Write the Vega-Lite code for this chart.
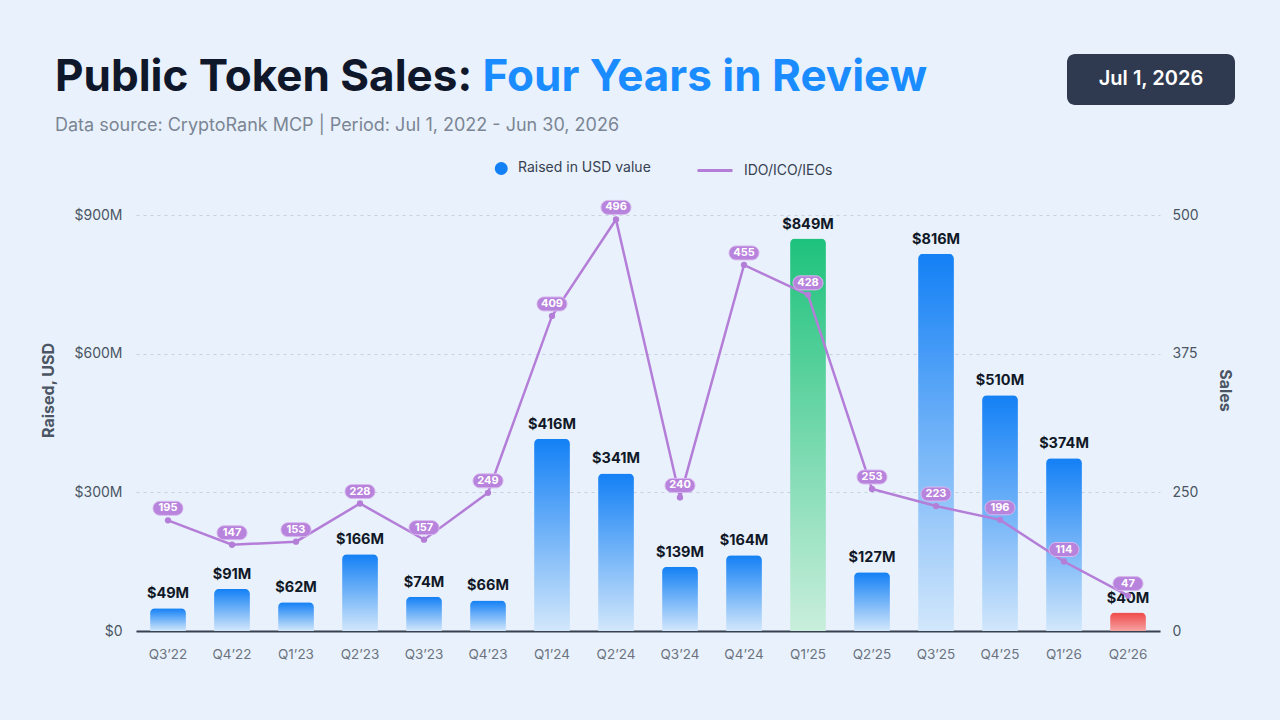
{
  "$schema": "https://vega.github.io/schema/vega-lite/v6.json",
  "width": 1024,
  "height": 416,
  "autosize": {"type": "none"},
  "padding": {"left": 136, "top": 215, "right": 120, "bottom": 89},
  "background": "#e9f2fc",
  "config": {
    "font": "Inter",
    "view": {"stroke": null},
    "axis": {"labelFont": "Inter", "titleFont": "Inter"},
    "legend": {"labelFont": "Inter", "titleFont": "Inter"}
  },
  "title": {
    "text": "Public Token Sales: Four Years in Review",
    "subtitle": "Data source: CryptoRank MCP  |  Period: Jul 1, 2022 - Jun 30, 2026",
    "anchor": "start",
    "frame": "group",
    "dx": -81,
    "dy": 85,
    "font": "Inter",
    "fontSize": 44,
    "fontWeight": 700,
    "color": {
      "value": {
        "gradient": "linear",
        "x1": 0, "y1": 0, "x2": 1, "y2": 0,
        "stops": [
          {"offset": 0, "color": "#0f172a"},
          {"offset": 0.482, "color": "#0f172a"},
          {"offset": 0.482, "color": "#1a8cff"},
          {"offset": 1, "color": "#1a8cff"}
        ]
      }
    },
    "subtitleFont": "Inter",
    "subtitleFontSize": 18,
    "subtitleColor": "#7b8594",
    "subtitlePadding": 17
  },
  "data": {
    "values": [
      {"quarter": "Q3’22", "raised": 49000000, "sales": 195},
      {"quarter": "Q4’22", "raised": 91000000, "sales": 147},
      {"quarter": "Q1’23", "raised": 62000000, "sales": 153},
      {"quarter": "Q2’23", "raised": 166000000, "sales": 228},
      {"quarter": "Q3’23", "raised": 74000000, "sales": 157},
      {"quarter": "Q4’23", "raised": 66000000, "sales": 249},
      {"quarter": "Q1’24", "raised": 416000000, "sales": 409},
      {"quarter": "Q2’24", "raised": 341000000, "sales": 496},
      {"quarter": "Q3’24", "raised": 139000000, "sales": 240},
      {"quarter": "Q4’24", "raised": 164000000, "sales": 455},
      {"quarter": "Q1’25", "raised": 849000000, "sales": 428},
      {"quarter": "Q2’25", "raised": 127000000, "sales": 253},
      {"quarter": "Q3’25", "raised": 816000000, "sales": 223},
      {"quarter": "Q4’25", "raised": 510000000, "sales": 196},
      {"quarter": "Q1’26", "raised": 374000000, "sales": 114},
      {"quarter": "Q2’26", "raised": 40000000, "sales": 47}
    ]
  },
  "encoding": {
    "x": {
      "field": "quarter",
      "type": "ordinal",
      "scale": {
        "domain": ["Q3’22", "Q4’22", "Q1’23", "Q2’23", "Q3’23", "Q4’23", "Q1’24", "Q2’24", "Q3’24", "Q4’24", "Q1’25", "Q2’25", "Q3’25", "Q4’25", "Q1’26", "Q2’26"],
        "paddingInner": 0.44,
        "paddingOuter": 0.22
      },
      "axis": {
        "title": null,
        "labelAngle": 0,
        "labelColor": "#6b7280",
        "labelFontSize": 13.5,
        "labelPadding": 16,
        "ticks": false,
        "grid": false,
        "domainColor": "#374151",
        "domainWidth": 2
      }
    }
  },
  "layer": [
    {
      "encoding": {
        "y": {
          "field": "raised",
          "type": "quantitative",
          "scale": {"domain": [0, 900000000], "nice": false},
          "axis": {
            "orient": "left",
            "title": "Raised, USD",
            "values": [0, 300000000, 600000000, 900000000],
            "format": "$~s",
            "labelExpr": "datum.value === 0 ? '$0' : datum.label",
            "labelColor": "#4b5563",
            "labelFontSize": 14,
            "labelPadding": 14,
            "ticks": false,
            "domain": false,
            "grid": true,
            "gridDash": [3, 4],
            "gridColor": "#c7d2de",
            "titleFontSize": 16,
            "titleFontWeight": 700,
            "titleColor": "#4b5563",
            "titlePadding": 18,
            "titleY": 175
          }
        }
      },
      "layer": [
        {
          "transform": [{"filter": "datum.quarter !== 'Q1’25' && datum.quarter !== 'Q2’26'"}],
          "mark": {
            "type": "bar",
            "cornerRadiusTopLeft": 5,
            "cornerRadiusTopRight": 5,
            "color": {
              "gradient": "linear",
              "x1": 0, "y1": 0, "x2": 0, "y2": 1,
              "stops": [
                {"offset": 0, "color": "#1380f5"},
                {"offset": 1, "color": "#d2e7fb"}
              ]
            }
          }
        },
        {
          "transform": [{"filter": "datum.quarter === 'Q1’25'"}],
          "mark": {
            "type": "bar",
            "cornerRadiusTopLeft": 5,
            "cornerRadiusTopRight": 5,
            "color": {
              "gradient": "linear",
              "x1": 0, "y1": 0, "x2": 0, "y2": 1,
              "stops": [
                {"offset": 0, "color": "#1ec27c"},
                {"offset": 1, "color": "#c9eedc"}
              ]
            }
          }
        },
        {
          "transform": [{"filter": "datum.quarter === 'Q2’26'"}],
          "mark": {
            "type": "bar",
            "cornerRadiusTopLeft": 5,
            "cornerRadiusTopRight": 5,
            "color": {
              "gradient": "linear",
              "x1": 0, "y1": 0, "x2": 0, "y2": 1,
              "stops": [
                {"offset": 0, "color": "#f04848"},
                {"offset": 1, "color": "#f6a3a3"}
              ]
            }
          }
        },
        {
          "mark": {
            "type": "text",
            "baseline": "alphabetic",
            "dy": -10,
            "fontSize": 14.5,
            "fontWeight": 700,
            "color": "#111827"
          },
          "encoding": {"text": {"field": "raised", "type": "quantitative", "format": "$~s"}}
        }
      ]
    },
    {
      "encoding": {
        "y": {
          "field": "sales",
          "type": "quantitative",
          "scale": {"domain": [0, 1, 250, 500], "range": [416, 404, 277.33, 0], "nice": false, "zero": false},
          "axis": {
            "orient": "right",
            "title": "Sales",
            "values": [0, 250, 375, 500],
            "labelColor": "#4b5563",
            "labelFontSize": 14,
            "labelPadding": 12,
            "ticks": false,
            "domain": false,
            "grid": false,
            "titleFontSize": 16,
            "titleFontWeight": 700,
            "titleColor": "#4b5563",
            "titlePadding": 18,
            "titleY": 175
          }
        }
      },
      "layer": [
        {
          "mark": {"type": "line", "strokeWidth": 2.5},
          "encoding": {
            "color": {
              "datum": "IDO/ICO/IEOs",
              "scale": {
                "domain": ["Raised in USD value", "IDO/ICO/IEOs"],
                "range": ["#1380f5", "#b47ed8"]
              },
              "legend": {
                "title": null,
                "orient": "none",
                "direction": "horizontal",
                "legendX": 334,
                "legendY": -66,
                "padding": 0,
                "symbolSize": 1225,
                "symbolStrokeWidth": 3,
                "labelFontSize": 14,
                "labelColor": "#374151",
                "labelOffset": 10,
                "columnPadding": 40,
                "encoding": {
                  "symbols": {
                    "shape": {"value": {"expr": "datum.value === 'IDO/ICO/IEOs' ? 'stroke' : 'M 0.414 0 A 0.286 0.286 0 1 1 0.986 0 A 0.286 0.286 0 1 1 0.414 0 Z'"}},
                    "fill": {"value": {"expr": "datum.value === 'IDO/ICO/IEOs' ? 'transparent' : '#1380f5'"}},
                    "stroke": {"value": {"expr": "datum.value === 'IDO/ICO/IEOs' ? '#b47ed8' : 'transparent'"}},
                    "opacity": {"value": 1}
                  }
                }
              }
            }
          }
        },
        {
          "mark": {"type": "point", "filled": true, "size": 40, "color": "#b47ed8", "opacity": 1}
        },
        {
          "mark": {
            "type": "point",
            "filled": true,
            "size": 900,
            "yOffset": -12,
            "fill": "#b883dc",
            "stroke": "#d8b9ee",
            "strokeWidth": 1,
            "opacity": 1
          },
          "encoding": {
            "shape": {
              "datum": "pill",
              "scale": {"range": ["M -0.533 -0.467 L 0.533 -0.467 A 0.467 0.467 0 0 1 0.533 0.467 L -0.533 0.467 A 0.467 0.467 0 0 1 -0.533 -0.467 Z"]},
              "legend": {
                "title": "Jul 1, 2026",
                "titleColor": "#ffffff",
                "titleFontSize": 20,
                "titleFontWeight": 600,
                "titlePadding": 0,
                "titleLimit": 300,
                "titleAnchor": "middle",
                "orient": "none",
                "legendX": 931,
                "legendY": -161,
                "padding": 15,
                "fillColor": "#2f3a50",
                "cornerRadius": 8,
                "symbolSize": 0,
                "symbolOpacity": 0,
                "symbolStrokeWidth": 0,
                "labelOffset": 137,
                "labelFontSize": 1,
                "labelExpr": "''",
                "encoding": {"symbols": {"opacity": {"value": 0}}}
              }
            }
          }
        },
        {
          "mark": {
            "type": "text",
            "dy": -12,
            "baseline": "middle",
            "fontSize": 11,
            "fontWeight": 700,
            "color": "#ffffff"
          },
          "encoding": {"text": {"field": "sales", "type": "quantitative"}}
        }
      ]
    }
  ],
  "resolve": {"scale": {"y": "independent"}}
}
